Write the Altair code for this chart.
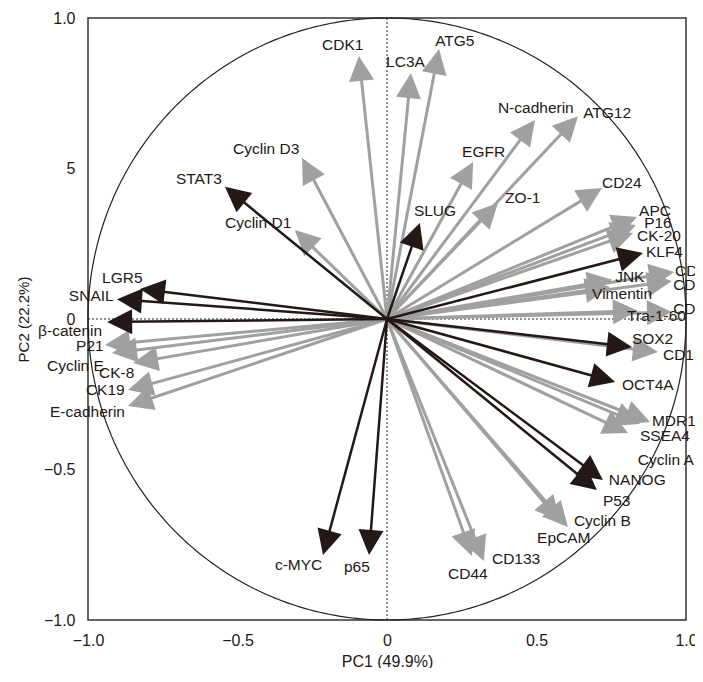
import altair as alt
import pandas as pd

# Loadings (tips of arrows)
names = ["CDK1", "LC3A", "ATG5", "N-cadherin", "ATG12", "EGFR", "Cyclin D3", "Cyclin D1",
         "ZO-1", "CD24", "APC", "P16", "CK-20", "JNK", "CDK", "CDK", "Vimentin", "Tra-1-60",
         "CDK", "CD13", "MDR1", "SSEA4", "Cyclin A", "Cyclin B", "EpCAM", "CD133", "CD44",
         "P21", "Cyclin E", "CK-8", "CK19", "E-cadherin",
         "STAT3", "SLUG", "LGR5", "SNAIL", "β-catenin", "KLF4", "SOX2", "OCT4A", "NANOG",
         "P53", "c-MYC", "p65"]
groups = ["gray"] * 32 + ["dark"] * 12
pc1 = [-0.094, 0.080, 0.174, 0.495, 0.639, 0.288, -0.284, -0.308,
       0.371, 0.719, 0.836, 0.833, 0.823, 0.753, 0.960, 0.953, 0.746, 0.839,
       0.953, 0.906, 0.880, 0.846, 0.806, 0.605, 0.579, 0.324, 0.284,
       -0.943, -0.920, -0.849, -0.866, -0.866,
       -0.542, 0.110, -0.826, -0.903, -0.936, 0.856, 0.819, 0.763, 0.722,
       0.702, -0.214, -0.060]
pc2 = [0.874, 0.817, 0.897, 0.661, 0.674, 0.522, 0.535, 0.296,
       0.385, 0.435, 0.339, 0.312, 0.286, 0.130, 0.156, 0.126, 0.106, 0.027,
       0.023, -0.110, -0.342, -0.349, -0.379, -0.691, -0.671, -0.804, -0.787,
       -0.086, -0.113, -0.146, -0.236, -0.289,
       0.439, 0.319, 0.100, 0.066, -0.010, 0.219, -0.093, -0.209, -0.535,
       -0.568, -0.784, -0.784]
# Label anchors (left edge, vertical middle) in data units
label_x = [-0.217, -0.003, 0.161, 0.371, 0.656, 0.251, -0.515, -0.542,
           0.395, 0.719, 0.843, 0.860, 0.836, 0.763, 0.963, 0.957, 0.686, 0.803,
           0.957, 0.923, 0.886, 0.846, 0.839, 0.625, 0.502, 0.351, 0.204,
           -1.040, -1.137, -0.963, -1.007, -1.127,
           -0.706, 0.090, -0.953, -1.064, -1.167, 0.866, 0.819, 0.786, 0.742,
           0.722, -0.375, -0.144]
label_y = [0.910, 0.854, 0.924, 0.701, 0.684, 0.555, 0.565, 0.319,
           0.402, 0.452, 0.359, 0.319, 0.276, 0.140, 0.159, 0.113, 0.083, 0.010,
           0.033, -0.120, -0.339, -0.389, -0.468, -0.671, -0.728, -0.797, -0.847,
           -0.090, -0.156, -0.179, -0.236, -0.309,
           0.465, 0.359, 0.136, 0.076, -0.040, 0.223, -0.066, -0.219, -0.535,
           -0.605, -0.817, -0.824]

tick_values = [-1, -0.5, 0, 0.5, 1]

df = pd.DataFrame({"name": names, "grp": groups, "pc1": pc1, "pc2": pc2,
                   "lx": label_x, "ly": label_y})

FONT = "Liberation Sans"
TXT = "#231815"
GRAY = "#a0a0a0"
DARK = "#231815"
ARROW = "M0,0 L0.5,1 L-0.5,1 Z"

xs = alt.Scale(domain=[-1, 1], nice=False, zero=False)
ys = alt.Scale(domain=[-1, 1], nice=False, zero=False)

xaxis = alt.Axis(values=tick_values,
                 labelExpr="datum.value == 0 ? '0' : format(datum.value, '.1f')",
                 title="PC1 (49.9%)", grid=False, ticks=False, tickSize=0, domain=False,
                 labelFlush=False, labelPadding=12, labelFontSize=16, titleFontSize=16,
                 titlePadding=5, labelFont=FONT, titleFont=FONT, labelColor=TXT,
                 titleColor=TXT, titleFontWeight="normal")
yaxis = alt.Axis(values=tick_values,
                 labelExpr="datum.value == 0.5 ? '5' : (datum.value == 0 ? '0' : format(datum.value, '.1f'))",
                 title="PC2 (22.2%)", grid=False, ticks=False, tickSize=0, domain=False,
                 labelFlush=False, labelPadding=13, labelFontSize=16, titleFontSize=15,
                 titlePadding=12, labelFont=FONT, titleFont=FONT, labelColor=TXT,
                 titleColor=TXT, titleFontWeight="normal")

def X(f):
    return alt.X(f, type="quantitative", scale=xs, axis=xaxis)

def Y(f):
    return alt.Y(f, type="quantitative", scale=ys, axis=yaxis)

circle = alt.Chart(alt.sequence(0, 361, 1, as_="t")).transform_calculate(
    cx="cos(datum.t * PI / 180)", cy="sin(datum.t * PI / 180)"
).mark_line(color="#222222", strokeWidth=1.2).encode(x=X("cx"), y=Y("cy"), order="t:Q")

zero = pd.DataFrame({"z": [0]})
vline = alt.Chart(zero).mark_rule(color="#222222", strokeWidth=1, strokeDash=[2, 2]).encode(x=X("z"))
hline = alt.Chart(zero).mark_rule(color="#222222", strokeWidth=1, strokeDash=[2, 2]).encode(y=Y("z"))

base = alt.Chart(df).transform_calculate(
    r="sqrt(datum.pc1 * datum.pc1 + datum.pc2 * datum.pc2)"
).transform_calculate(
    ex="datum.pc1 * (1 - 0.05 / datum.r)",
    ey="datum.pc2 * (1 - 0.05 / datum.r)",
    ox="0", oy="0",
    ang="(atan2(datum.pc1, datum.pc2) * 180 / PI + 360) % 360",
)

def shafts(g, color, w):
    return base.transform_filter(alt.datum.grp == g).mark_rule(
        color=color, strokeWidth=w).encode(x=X("ox"), y=Y("oy"), x2="ex:Q", y2="ey:Q")

def heads(g, color):
    return base.transform_filter(alt.datum.grp == g).mark_point(
        shape=ARROW, filled=True, size=2500, opacity=1, color=color, strokeWidth=0
    ).encode(x=X("pc1"), y=Y("pc2"), angle=alt.Angle("ang:Q", scale=None))

labels = base.mark_text(align="left", baseline="middle", font=FONT, fontSize=15.5,
                        color=TXT).encode(x=X("lx"), y=Y("ly"), text="name:N")

chart = alt.layer(
    circle, vline, hline,
    shafts("gray", GRAY, 3), heads("gray", GRAY),
    shafts("dark", DARK, 2.5), heads("dark", DARK),
    labels,
).properties(
    width=598, height=602,
    padding={"left": 80, "top": 10, "right": 9, "bottom": 48},
    autosize=alt.AutoSizeParams(type="none"),
    background="white",
).configure_view(stroke="#333333", strokeWidth=1.5)

chart.save("out.html", embed_options={"renderer": "svg", "actions": False})
